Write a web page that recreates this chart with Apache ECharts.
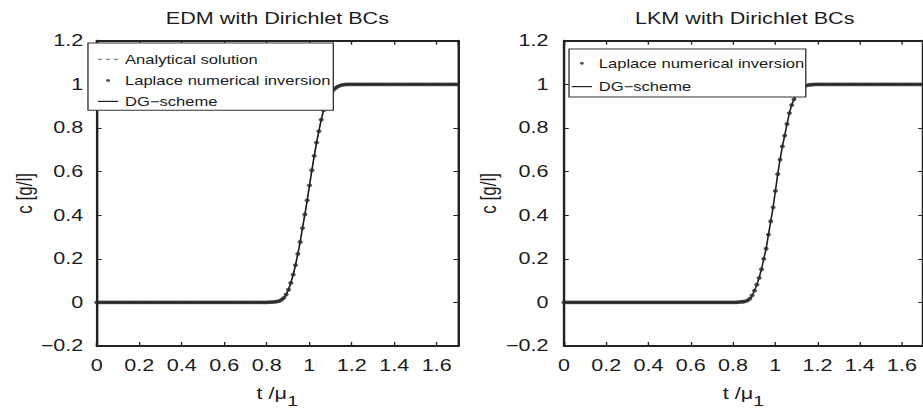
<!DOCTYPE html>
<html>
<head>
<meta charset="utf-8">
<script src="https://cdn.jsdelivr.net/npm/echarts@6/dist/echarts.min.js"></script>
<style>
html,body{margin:0;padding:0;background:#fff;overflow:hidden;width:923px;height:413px;}
#chart{width:684px;height:413px;transform:scaleX(1.3494);transform-origin:0 0;}
</style>
</head>
<body>
<div id="chart"></div>
<script>
// ---- data ----
const tValues = [
  0, 0.011, 0.022, 0.033, 0.044, 0.055, 0.066, 0.077, 0.088, 0.099,
  0.11, 0.121, 0.132, 0.143, 0.154, 0.165, 0.176, 0.187, 0.198, 0.209,
  0.22, 0.231, 0.242, 0.253, 0.264, 0.275, 0.286, 0.297, 0.308, 0.319,
  0.33, 0.341, 0.352, 0.363, 0.374, 0.385, 0.396, 0.407, 0.418, 0.429,
  0.44, 0.451, 0.462, 0.473, 0.484, 0.495, 0.506, 0.517, 0.528, 0.539,
  0.55, 0.561, 0.572, 0.583, 0.594, 0.605, 0.616, 0.627, 0.638, 0.649,
  0.66, 0.671, 0.682, 0.693, 0.704, 0.715, 0.726, 0.737, 0.748, 0.759,
  0.77, 0.781, 0.792, 0.803, 0.814, 0.825, 0.836, 0.847, 0.858, 0.869,
  0.88, 0.891, 0.902, 0.913, 0.924, 0.935, 0.946, 0.957, 0.968, 0.979,
  0.99, 1.001, 1.012, 1.023, 1.034, 1.045, 1.056, 1.067, 1.078, 1.089,
  1.1, 1.111, 1.122, 1.133, 1.144, 1.155, 1.166, 1.177, 1.188, 1.199,
  1.21, 1.221, 1.232, 1.243, 1.254, 1.265, 1.276, 1.287, 1.298, 1.309,
  1.32, 1.331, 1.342, 1.353, 1.364, 1.375, 1.386, 1.397, 1.408, 1.419,
  1.43, 1.441, 1.452, 1.463, 1.474, 1.485, 1.496, 1.507, 1.518, 1.529,
  1.54, 1.551, 1.562, 1.573, 1.584, 1.595, 1.606, 1.617, 1.628, 1.639,
  1.65, 1.661, 1.672, 1.683, 1.694
];

// EDM with Dirichlet BCs: c [g/l]
const edmConc = [
  0, 0, 0, 0, 0, 0, 0, 0, 0, 0,
  0, 0, 0, 0, 0, 0, 0, 0, 0, 0,
  0, 0, 0, 0, 0, 0, 0, 0, 0, 0,
  0, 0, 0, 0, 0, 0, 0, 0, 0, 0,
  0, 0, 0, 0, 0, 0, 0, 0, 0, 0,
  0, 0, 0, 0, 0, 0, 0, 0, 0, 0,
  0, 0, 0, 0, 0, 0, 0, 0, 0, 0,
  0, 0, 0, 0,
  0.001, 0.001, 0.002, 0.004, 0.006, 0.012, 0.021, 0.036, 0.058, 0.089,
  0.127, 0.171, 0.222, 0.277, 0.341, 0.403, 0.468, 0.537, 0.606, 0.672,
  0.733, 0.785, 0.838, 0.881, 0.912, 0.937, 0.958, 0.972, 0.982, 0.989,
  0.994, 0.997, 0.999,
  1, 1, 1, 1, 1, 1, 1, 1, 1, 1,
  1, 1, 1, 1, 1, 1, 1, 1, 1, 1,
  1, 1, 1, 1, 1, 1, 1, 1, 1, 1,
  1, 1, 1, 1, 1, 1, 1, 1, 1, 1,
  1, 1, 1, 1, 1, 1, 1, 1
];

// LKM with Dirichlet BCs: c [g/l]
const lkmConc = [
  0, 0, 0, 0, 0, 0, 0, 0, 0, 0,
  0, 0, 0, 0, 0, 0, 0, 0, 0, 0,
  0, 0, 0, 0, 0, 0, 0, 0, 0, 0,
  0, 0, 0, 0, 0, 0, 0, 0, 0, 0,
  0, 0, 0, 0, 0, 0, 0, 0, 0, 0,
  0, 0, 0, 0, 0, 0, 0, 0, 0, 0,
  0, 0, 0, 0, 0, 0, 0, 0, 0, 0,
  0, 0, 0, 0, 0,
  0.001, 0.002, 0.003, 0.005, 0.009, 0.017, 0.032, 0.054, 0.081, 0.112,
  0.152, 0.2, 0.246, 0.311, 0.372, 0.436, 0.511, 0.588, 0.655, 0.715,
  0.765, 0.818, 0.868, 0.905, 0.931, 0.952, 0.968, 0.98, 0.988, 0.993,
  0.996, 0.998, 0.999,
  1, 1, 1, 1, 1, 1, 1, 1, 1, 1,
  1, 1, 1, 1, 1, 1, 1, 1, 1, 1,
  1, 1, 1, 1, 1, 1, 1, 1, 1, 1,
  1, 1, 1, 1, 1, 1, 1, 1, 1, 1,
  1, 1, 1, 1, 1, 1, 1
];

const panelTitles = ['EDM with Dirichlet BCs', 'LKM with Dirichlet BCs'];
const xRange = [0, 1.7];
const yRange = [-0.2, 1.2];
const tickStep = 0.2;
const xAxisTitle = 't /μ';
const xAxisSub = '1';
const yAxisTitle = 'c [g/l]';
const seriesNames = ['Analytical solution', 'Laplace numerical inversion', 'DG−scheme'];

// ---- chart ----
const FONT = '"Liberation Sans", Arial, Helvetica, sans-serif';
const TXT = '#1c1c1c';
const AX = '#222';

const pairs = arr => tValues.map((t, i) => [t, arr[i]]);

const dashIcon = 'path://M0,0M15,14M0,6.4h3.2v1.2h-3.2zM5.8,6.4h3.2v1.2h-3.2zM11.6,6.4h3.2v1.2h-3.2z';
const dotIcon = 'path://M0,0M15,14M7.5,5.5a1.5,1.5 0 1,0 0.01,0z';
const lineIcon = 'path://M0,0M15,14M0,6.4h15v1.2h-15z';

const grids = [
  { left: 71.7, top: 40.7, width: 267.8, height: 306 },
  { left: 418, top: 40.7, width: 267.8, height: 306 }
];

function yFmt(v) {
  const r = Math.round(v * 10) / 10;
  return String(r).replace('-', '−');
}

const xAxes = [], yAxes = [];
grids.forEach((g, gi) => {
  xAxes.push({
    type: 'value', gridIndex: gi, position: 'bottom',
    min: xRange[0], max: xRange[1], interval: tickStep,
    axisLine: { show: true, onZero: false, lineStyle: { color: AX, width: 1.8 } },
    axisTick: { show: true, inside: true, length: 4, lineStyle: { color: AX, width: 1 } },
    splitLine: { show: false },
    axisLabel: { show: true, showMaxLabel: false, margin: 12, fontSize: 16, color: TXT, fontFamily: FONT },
    name: '{a|' + xAxisTitle + '}{s|' + xAxisSub + '}',
    nameLocation: 'middle', nameGap: 40,
    nameTextStyle: {
      color: TXT, fontFamily: FONT,
      rich: {
        a: { fontSize: 16, fontFamily: FONT, color: TXT, lineHeight: 22, verticalAlign: 'top' },
        s: { fontSize: 15, fontFamily: FONT, color: TXT, lineHeight: 16, verticalAlign: 'bottom', padding: [6, 0, 0, 0] }
      }
    }
  });
  xAxes.push({
    type: 'value', gridIndex: gi, position: 'top',
    min: xRange[0], max: xRange[1], interval: tickStep,
    axisLine: { show: true, onZero: false, lineStyle: { color: AX, width: 1.8 } },
    axisTick: { show: true, inside: true, length: 4, lineStyle: { color: AX, width: 1 } },
    splitLine: { show: false },
    axisLabel: { show: false }
  });
  yAxes.push({
    type: 'value', gridIndex: gi, position: 'left',
    min: yRange[0], max: yRange[1], interval: tickStep,
    axisLine: { show: true, onZero: false, lineStyle: { color: AX, width: 1.8 } },
    axisTick: { show: true, inside: true, length: 3.5, lineStyle: { color: AX, width: 1 } },
    splitLine: { show: false },
    axisLabel: { show: true, margin: gi === 0 ? 10 : 11.5, fontSize: 16, color: TXT, fontFamily: FONT, formatter: yFmt },
    name: yAxisTitle, nameLocation: 'middle', nameRotate: 90,
    nameGap: gi === 0 ? 45 : 48,
    nameTextStyle: { fontSize: 17, color: TXT, fontFamily: FONT }
  });
  yAxes.push({
    type: 'value', gridIndex: gi, position: 'right',
    min: yRange[0], max: yRange[1], interval: tickStep,
    axisLine: { show: true, onZero: false, lineStyle: { color: AX, width: 1.8 } },
    axisTick: { show: true, inside: true, length: 3.5, lineStyle: { color: AX, width: 1 } },
    splitLine: { show: false },
    axisLabel: { show: false }
  });
});

const option = {
  backgroundColor: '#fff',
  animation: false,
  title: [
    { text: panelTitles[0], left: 205.6, top: 11, textAlign: 'center', padding: 0,
      textStyle: { fontSize: 16, fontWeight: 'normal', color: TXT, fontFamily: FONT } },
    { text: panelTitles[1], left: 551.9, top: 11, textAlign: 'center', padding: 0,
      textStyle: { fontSize: 16, fontWeight: 'normal', color: TXT, fontFamily: FONT } }
  ],
  legend: [
    {
      orient: 'vertical', left: 65.2, top: 43,
      itemWidth: 15, itemHeight: 14, itemGap: 7,
      padding: [9.4, 2, 1.9, 7.4],
      borderColor: '#333', borderWidth: 1, backgroundColor: '#fff',
      selectedMode: false, z: 10,
      textStyle: { fontSize: 12.3, lineHeight: 14, color: TXT, fontFamily: FONT },
      data: [
        { name: seriesNames[0], icon: dashIcon },
        { name: seriesNames[1], icon: dotIcon },
        { name: seriesNames[2], icon: lineIcon }
      ]
    },
    {
      orient: 'vertical', left: 421.7, top: 49,
      itemWidth: 15, itemHeight: 14, itemGap: 9.3,
      padding: [7.3, 1, 3.3, 2],
      borderColor: '#333', borderWidth: 1, backgroundColor: '#fff',
      selectedMode: false, z: 10,
      textStyle: { fontSize: 12.3, lineHeight: 14, color: TXT, fontFamily: FONT },
      data: [
        { name: seriesNames[1], icon: dotIcon },
        { name: seriesNames[2], icon: lineIcon }
      ]
    }
  ],
  grid: grids,
  xAxis: xAxes,
  yAxis: yAxes,
  series: [
    { type: 'line', name: seriesNames[0], xAxisIndex: 0, yAxisIndex: 0, data: pairs(edmConc),
      symbol: 'none', color: '#8c8c8c', lineStyle: { color: '#8c8c8c', width: 1, type: [3, 2.5] }, z: 2 },
    { type: 'scatter', name: seriesNames[1], xAxisIndex: 0, yAxisIndex: 0, data: pairs(edmConc),
      symbol: 'circle', symbolSize: 3.8, color: '#2a2a2a', itemStyle: { color: '#2a2a2a' }, z: 4 },
    { type: 'line', name: seriesNames[2], xAxisIndex: 0, yAxisIndex: 0, data: pairs(edmConc),
      symbol: 'none', color: '#1e1e1e', lineStyle: { color: '#1e1e1e', width: 1.2 }, z: 3 },
    { type: 'scatter', name: seriesNames[1], xAxisIndex: 2, yAxisIndex: 2, data: pairs(lkmConc),
      symbol: 'circle', symbolSize: 3.8, color: '#2a2a2a', itemStyle: { color: '#2a2a2a' }, z: 4 },
    { type: 'line', name: seriesNames[2], xAxisIndex: 2, yAxisIndex: 2, data: pairs(lkmConc),
      symbol: 'none', color: '#1e1e1e', lineStyle: { color: '#1e1e1e', width: 1.2 }, z: 3 }
  ]
};

const chart = echarts.init(document.getElementById('chart'), null, { renderer: 'svg' });
chart.setOption(option);
</script>
</body>
</html>
